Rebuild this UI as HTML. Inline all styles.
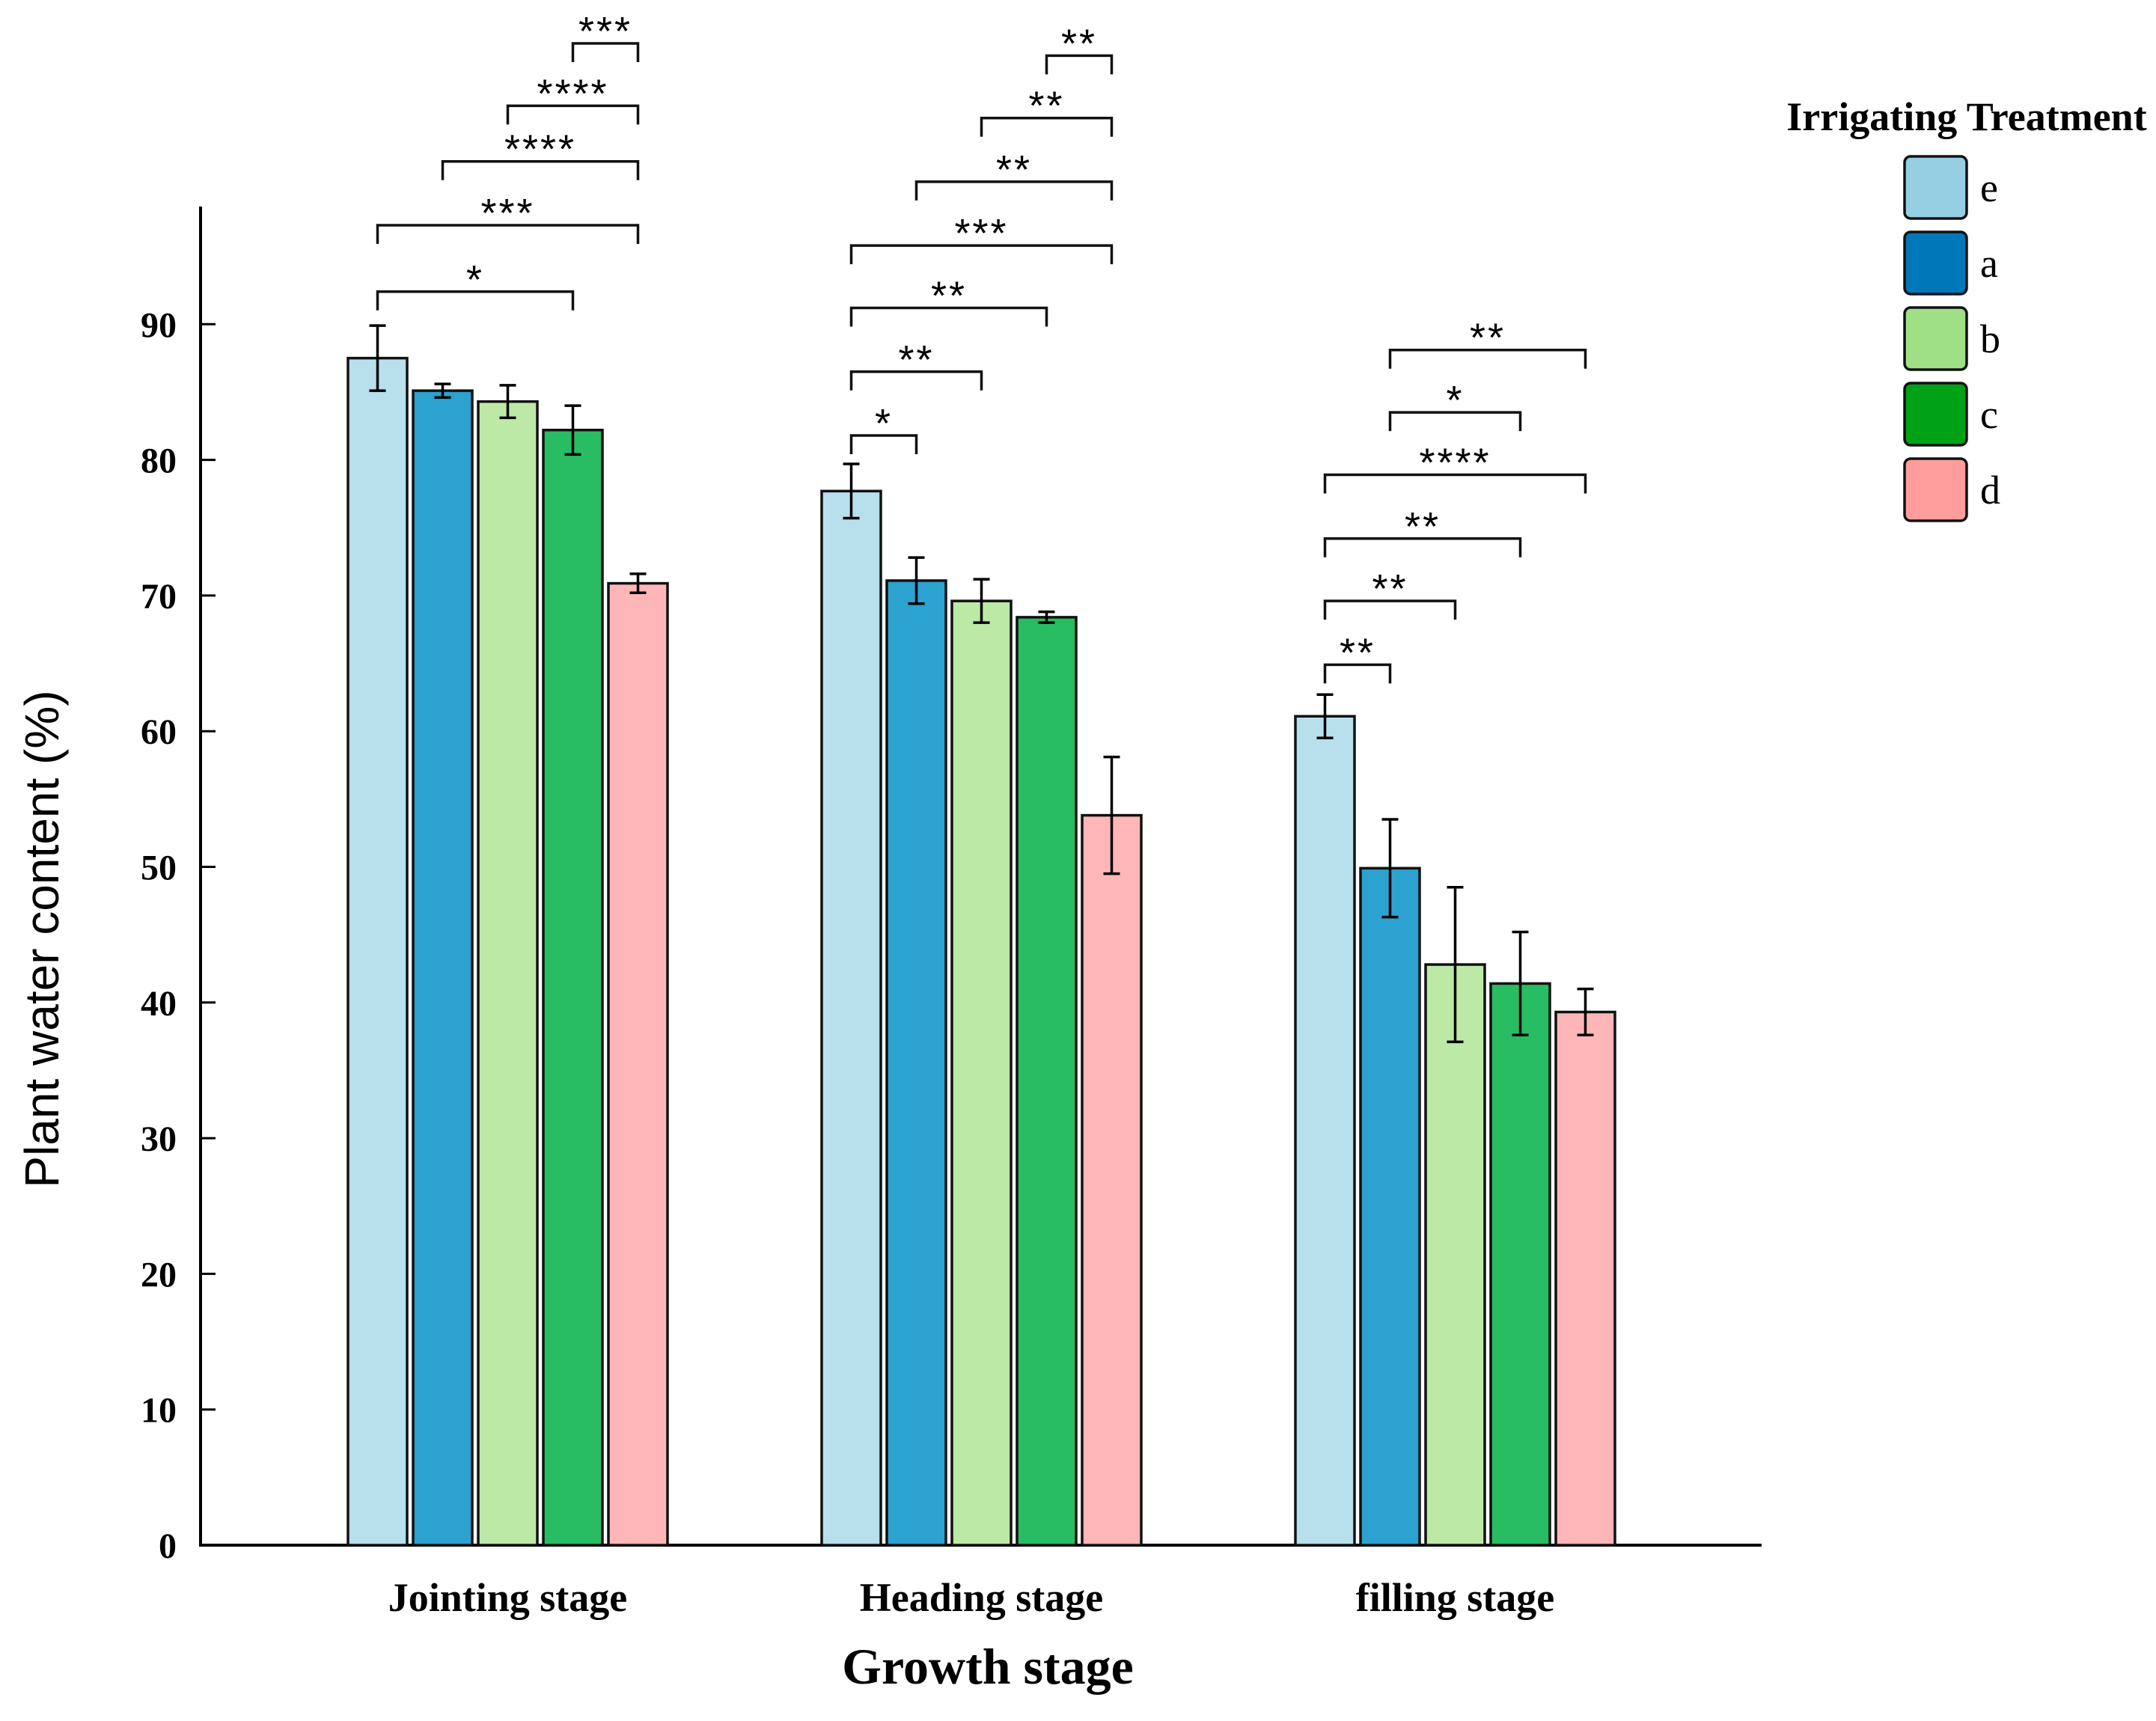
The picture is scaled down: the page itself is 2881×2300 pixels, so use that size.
<!DOCTYPE html>
<html><head><meta charset="utf-8"><style>
html,body{margin:0;padding:0;background:#fff;}
svg{display:block;}
</style></head><body>
<svg id="chart" width="2881" height="2300" viewBox="0 0 2881 2300" xmlns="http://www.w3.org/2000/svg">
<g id="axes"></g>
<g id="bars"></g>
<g id="brackets"></g>
<text x="1320" y="2250" text-anchor="middle" font-family="Liberation Serif, serif" font-weight="bold" font-size="68">Growth stage</text>
<text transform="translate(78,1255) rotate(-90)" text-anchor="middle" font-family="Liberation Sans, sans-serif" font-size="64">Plant water content  (%)</text>
<g id="legend">
<text x="2628" y="174" text-anchor="middle" font-family="Liberation Serif, serif" font-weight="bold" font-size="54">Irrigating Treatment</text>
</g>
</svg>
<script>
const categories = ["Jointing stage", "Heading stage", "filling stage"];
const treatments = ["e", "a", "b", "c", "d"];
const seriesE = [87.5, 77.7, 61.1];
const seriesA = [85.1, 71.1, 49.9];
const seriesB = [84.3, 69.6, 42.8];
const seriesC = [82.2, 68.4, 41.4];
const seriesD = [70.9, 53.8, 39.3];
const errE = [2.4, 2.0, 1.6];
const errA = [0.5, 1.7, 3.6];
const errB = [1.2, 1.6, 5.7];
const errC = [1.8, 0.4, 3.8];
const errD = [0.7, 4.3, 1.7];
const yTicks = [0, 10, 20, 30, 40, 50, 60, 70, 80, 90];
// brackets: [group, fromBar, toBar, level(value units), label]
const bracketsJ = [[0,0,3,92.4,"*"],[0,0,4,97.3,"***"],[0,1,4,102.0,"****"],[0,2,4,106.1,"****"],[0,3,4,110.7,"***"]];
const bracketsH = [[1,0,1,81.8,"*"],[1,0,2,86.5,"**"],[1,0,3,91.2,"**"],[1,0,4,95.8,"***"],[1,1,4,100.5,"**"],[1,2,4,105.2,"**"],[1,3,4,109.8,"**"]];
const bracketsF = [[2,0,1,64.9,"**"],[2,0,2,69.6,"**"],[2,0,3,74.2,"**"],[2,0,4,78.9,"****"],[2,1,3,83.5,"*"],[2,1,4,88.1,"**"]];

const series = [seriesE, seriesA, seriesB, seriesC, seriesD];
const errs = [errE, errA, errB, errC, errD];
const barFill = ["#b8dfec", "#2ba2cf", "#bde9a7", "#28bd62", "#ffb6b8"];
const legFill = ["#96cfe4", "#0077b6", "#9fe087", "#00a215", "#ff9d9d"];
const NS = "http://www.w3.org/2000/svg";
const X0 = 268, Y0 = 2065, PER = 18.13, TOP = 276, XEND = 2354;
const G0 = 465, GSTEP = 633, BSTEP = 87, BW = 79;
function y(v){ return Y0 - v * PER; }
function bx(g, i){ return G0 + g * GSTEP + i * BSTEP; }
function bc(g, i){ return bx(g, i) + BW / 2; }
function mk(tag, attrs, parent){ const e = document.createElementNS(NS, tag); for (const k in attrs) e.setAttribute(k, attrs[k]); parent.appendChild(e); return e; }

const axes = document.getElementById('axes');
let l = mk('line', {x1:X0, y1:TOP, x2:X0, y2:Y0+2, stroke:'#000', 'stroke-width':4}, axes);


l = mk('line', {x1:X0-2, y1:Y0, x2:XEND, y2:Y0, stroke:'#000', 'stroke-width':4}, axes);


yTicks.forEach(t => {
  const tk = mk('line', {x1:X0, y1:y(t), x2:X0+20, y2:y(t), stroke:'#000', 'stroke-width':3}, axes);
  
  
  const tx = mk('text', {x:X0-32, y:y(t)+17, 'text-anchor':'end', 'font-family':'Liberation Serif, serif', 'font-weight':'bold', 'font-size':48}, axes);
  tx.textContent = t;
  
  
});
categories.forEach((c, g) => {
  const tk = mk('line', {x1:bc(g,2), y1:Y0, x2:bc(g,2), y2:Y0-20, stroke:'#000', 'stroke-width':3}, axes);
  
  
  const tx = mk('text', {x:bc(g,2), y:2153, 'text-anchor':'middle', 'font-family':'Liberation Serif, serif', 'font-weight':'bold', 'font-size':54}, axes);
  tx.textContent = c;
  
  
});

const bars = document.getElementById('bars');
categories.forEach((c, g) => {
  series.forEach((s, i) => {
    const v = s[g], e = errs[i][g];
    const r = mk('rect', {x:bx(g,i), y:y(v), width:BW, height:Y0 - y(v), fill:barFill[i], stroke:'#111', 'stroke-width':3.5}, bars);
    
    
    const cx = bc(g, i);
    const eb = mk('path', {d:`M${cx},${y(v+e)}V${y(v-e)}M${cx-11},${y(v+e)}H${cx+11}M${cx-11},${y(v-e)}H${cx+11}`, stroke:'#000', 'stroke-width':3.5, fill:'none'}, bars);
    
    
  });
});

const br = document.getElementById('brackets');
[...bracketsJ, ...bracketsH, ...bracketsF].forEach(b => {
  const [g, a, c, lev, lab] = b;
  const x1 = bc(g, a), x2 = bc(g, c), yy = y(lev);
  const p = mk('path', {d:`M${x1},${yy+25}V${yy}H${x2}V${yy+25}`, stroke:'#111', 'stroke-width':3.5, fill:'none'}, br);
  
  
  const t = mk('text', {x:(x1+x2)/2, y:yy+2, 'text-anchor':'middle', 'font-family':'Liberation Sans, sans-serif', 'font-size':54, 'letter-spacing':3}, br);
  t.textContent = lab;
  
  
});

const leg = document.getElementById('legend');
treatments.forEach((tname, i) => {
  const ty = 209 + i * 101;
  const r = mk('rect', {x:2545, y:ty, width:83, height:83, rx:8, fill:legFill[i], stroke:'#111', 'stroke-width':3.5}, leg);
  
  
  const t = mk('text', {x:2646, y:ty+60, 'font-family':'Liberation Serif, serif', 'font-size':54}, leg);
  t.textContent = tname;
  
  
});
</script>
</body></html>
